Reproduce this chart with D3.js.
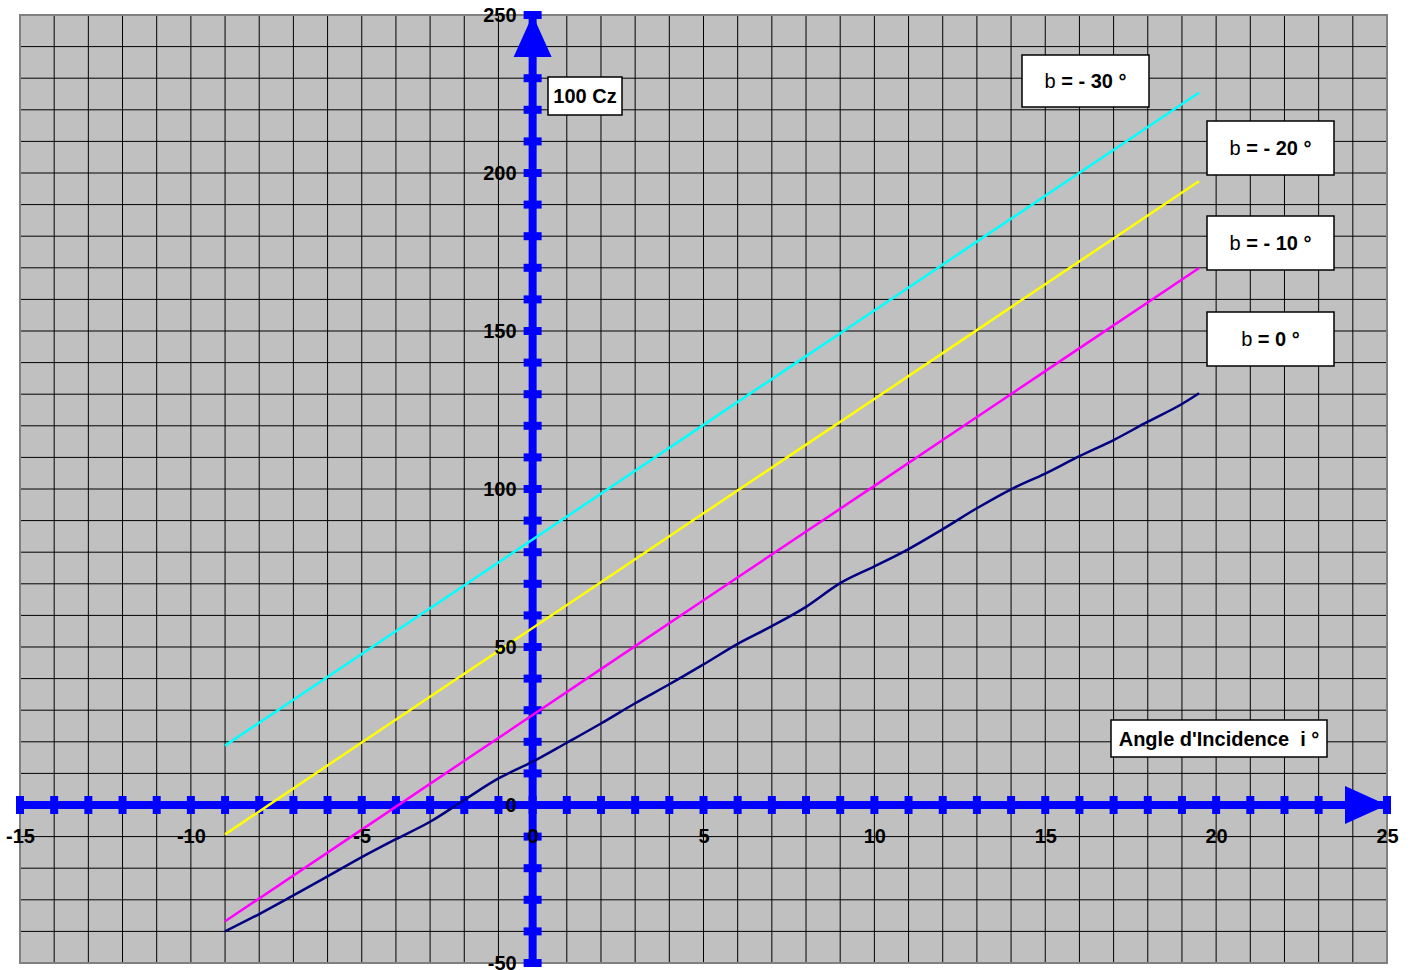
<!DOCTYPE html>
<html>
<head>
<meta charset="utf-8">
<script src="https://cdn.jsdelivr.net/npm/d3@7"></script>
<style>
  body { margin: 0; background: #fff; }
  text { font-family: "Liberation Sans", Arial, sans-serif; }
</style>
</head>
<body>
<div id="chart"></div>
<script>
// angle of incidence i (degrees) and 100 Cz for each setting of b
var angleLines = [-9, -5, 0, 5, 10, 15, 19.5];
var czB30 = [18.8, 47.8, 84, 120.3, 156.5, 192.8, 225.4];
var czB20 = [-9.3, 19.8, 56, 92.3, 128.5, 164.8, 197.4];
var czB10 = [-36.8, -7.8, 28.5, 64.8, 101, 137.3, 169.9];

var angleB0 = [-9, -8, -7, -6, -5, -4, -3, -2, -1, 0, 1, 2, 3, 4, 5, 6, 7, 8, 9, 10,
               11, 12, 13, 14, 15, 16, 17, 18, 19, 19.5];
var czB0 = [-40, -34.5, -28.6, -22.6, -16.5, -10.8, -5.3, 1.6, 8.4, 13.7, 19.7, 25.8, 32.2, 38.2, 44.5,
            51, 56.6, 62.7, 70.2, 75.5, 81, 87.3, 93.9, 99.9, 104.9, 110.4, 115.5, 121.3, 126.9, 130.3];

var xLabels = [-15, -10, -5, 0, 5, 10, 15, 20, 25];
var yLabels = [-50, 0, 50, 100, 150, 200, 250];
var xGrid = d3.range(-15, 26, 1);
var yGrid = d3.range(-50, 251, 10);

var series = [
  {name: "b = - 30 °", xs: angleLines, ys: czB30, color: "#00ffff"},
  {name: "b = - 20 °", xs: angleLines, ys: czB20, color: "#ffff00"},
  {name: "b = - 10 °", xs: angleLines, ys: czB10, color: "#ff00ff"},
  {name: "b = 0 °", xs: angleB0, ys: czB0, color: "#000080"}
];

var width = 1412, height = 970;

var x = d3.scaleLinear().domain([-15, 25]).range([20, 1387]);
var y = d3.scaleLinear().domain([-50, 250]).range([963, 15]);

var svg = d3.select("#chart").append("svg")
    .attr("width", width)
    .attr("height", height);

// plot background
svg.append("rect")
    .attr("x", x(-15)).attr("y", y(250))
    .attr("width", x(25) - x(-15)).attr("height", y(-50) - y(250))
    .attr("fill", "#c0c0c0");

// grid
svg.append("g").selectAll("line.v")
    .data(xGrid)
  .enter().append("line")
    .attr("x1", function(d) { return x(d); }).attr("x2", function(d) { return x(d); })
    .attr("y1", y(250)).attr("y2", y(-50))
    .attr("stroke", "#000").attr("stroke-width", 1);

svg.append("g").selectAll("line.h")
    .data(yGrid)
  .enter().append("line")
    .attr("y1", function(d) { return y(d); }).attr("y2", function(d) { return y(d); })
    .attr("x1", x(-15)).attr("x2", x(25))
    .attr("stroke", "#000").attr("stroke-width", 1);

// border
svg.append("rect")
    .attr("x", x(-15)).attr("y", y(250))
    .attr("width", x(25) - x(-15)).attr("height", y(-50) - y(250))
    .attr("fill", "none").attr("stroke", "#808080").attr("stroke-width", 2);

// blue axes
var blue = "#0000ff";
svg.append("line")
    .attr("x1", x(-15)).attr("x2", x(25))
    .attr("y1", y(0)).attr("y2", y(0))
    .attr("stroke", blue).attr("stroke-width", 8);
svg.append("line")
    .attr("x1", x(0)).attr("x2", x(0))
    .attr("y1", y(-50)).attr("y2", y(250))
    .attr("stroke", blue).attr("stroke-width", 8);

svg.append("g").selectAll("rect")
    .data(xGrid)
  .enter().append("rect")
    .attr("x", function(d) { return x(d) - 4; })
    .attr("y", y(0) - 9)
    .attr("width", 8).attr("height", 18)
    .attr("fill", blue);

svg.append("g").selectAll("rect")
    .data(yGrid)
  .enter().append("rect")
    .attr("x", x(0) - 9)
    .attr("y", function(d) { return y(d) - 4; })
    .attr("width", 18).attr("height", 8)
    .attr("fill", blue);

// arrow heads
svg.append("path")
    .attr("d", "M" + x(0) + "," + y(250) +
               "L" + (x(0) + 19) + "," + (y(250) + 42) +
               "L" + (x(0) - 19) + "," + (y(250) + 42) + "Z")
    .attr("fill", blue);
svg.append("path")
    .attr("d", "M" + x(25) + "," + y(0) +
               "L" + (x(25) - 42) + "," + (y(0) - 19) +
               "L" + (x(25) - 42) + "," + (y(0) + 19) + "Z")
    .attr("fill", blue);

// series lines
var line = d3.line()
    .curve(d3.curveMonotoneX)
    .x(function(d) { return x(d[0]); })
    .y(function(d) { return y(d[1]); });

series.forEach(function(s) {
  svg.append("path")
      .datum(d3.zip(s.xs, s.ys))
      .attr("d", line)
      .attr("fill", "none")
      .attr("stroke", s.color)
      .attr("stroke-width", 2.5);
});

// tick labels
var xAxis = svg.append("g")
    .attr("transform", "translate(0," + y(0) + ")")
    .call(d3.axisBottom(x).tickValues(xLabels).tickSize(0).tickPadding(24)
      .tickFormat(function(d) { return String(d); }));
var yAxis = svg.append("g")
    .attr("transform", "translate(" + x(0) + ",0)")
    .call(d3.axisLeft(y).tickValues(yLabels).tickSize(0).tickPadding(16)
      .tickFormat(function(d) { return String(d); }));

[xAxis, yAxis].forEach(function(a) {
  a.select(".domain").remove();
  a.selectAll("text")
      .attr("font-family", "Liberation Sans, Arial, sans-serif")
      .attr("font-size", 20)
      .attr("font-weight", "bold")
      .attr("fill", "#000");
});

// text boxes
var boxes = [
  {pre: "", text: "100 Cz", x: 548, y: 77, w: 74, h: 38},
  {pre: "b", text: " = - 30 °", x: 1022, y: 55, w: 127, h: 52},
  {pre: "b", text: " = - 20 °", x: 1207, y: 121, w: 127, h: 54},
  {pre: "b", text: " = - 10 °", x: 1207, y: 216, w: 127, h: 54},
  {pre: "b", text: " = 0 °", x: 1207, y: 312, w: 127, h: 54},
  {pre: "", text: "Angle d'Incidence\u00a0\u00a0i °", x: 1111, y: 720, w: 216, h: 37}
];

var box = svg.append("g").selectAll("g")
    .data(boxes)
  .enter().append("g");

box.append("rect")
    .attr("x", function(d) { return d.x; })
    .attr("y", function(d) { return d.y; })
    .attr("width", function(d) { return d.w; })
    .attr("height", function(d) { return d.h; })
    .attr("fill", "#fff")
    .attr("stroke", "#000")
    .attr("stroke-width", 1.5);

var t = box.append("text")
    .attr("x", function(d) { return d.x + d.w / 2; })
    .attr("y", function(d) { return d.y + d.h / 2 + 7; })
    .attr("text-anchor", "middle")
    .attr("font-size", 20)
    .attr("fill", "#000");
t.append("tspan").attr("font-weight", "normal").text(function(d) { return d.pre; });
t.append("tspan").attr("font-weight", "bold").text(function(d) { return d.text; });
</script>
</body>
</html>
